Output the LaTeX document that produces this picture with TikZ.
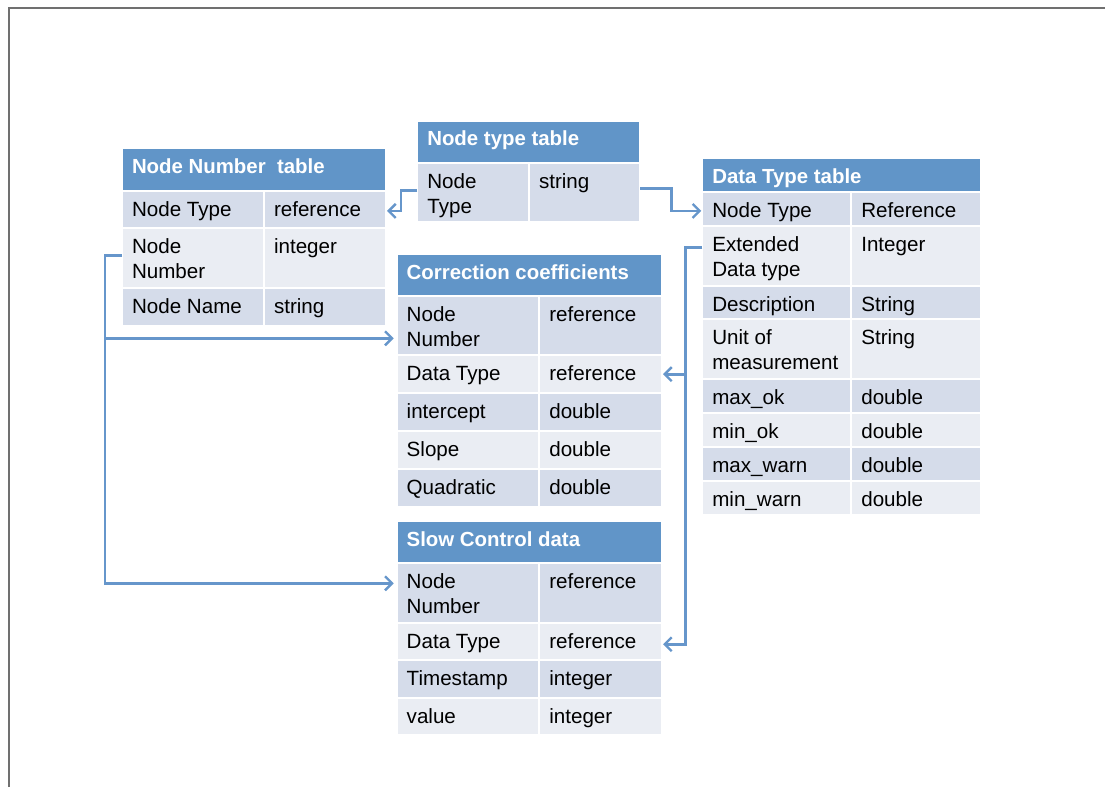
\documentclass[tikz,border=0pt]{standalone}
\usepackage{fontspec}
\setmainfont{Liberation Sans}
\usetikzlibrary{arrows.meta,calc}
\definecolor{hdr}{HTML}{6195C8}
\definecolor{rowA}{HTML}{D5DCEA}
\definecolor{rowB}{HTML}{EAEDF3}
\definecolor{conncol}{HTML}{6696CB}
\definecolor{framecol}{HTML}{707070}
\tikzset{
  cellbox/.style={draw=white,line width=2pt,inner sep=0pt,outer sep=0pt,rectangle},
  celltext/.style={anchor=base west,inner sep=0pt,outer sep=0pt,text=black,font=\fontsize{20.6}{25}\selectfont},
  hdrtext/.style={anchor=base west,inner sep=0pt,outer sep=0pt,text=white,font=\fontsize{20.4}{25}\selectfont\bfseries},
  conn/.style={draw=conncol,line width=2.8pt,-{Straight Barb[length=7pt,width=14pt,line width=2.4pt]}},
  frameline/.style={draw=framecol,line width=2pt}
}
\newcommand\mycell[7]{%
  \node[cellbox,fill=#6,minimum width={(#4-#2)*1pt},minimum height={(#5-#3)*1pt}] (#1) at ({(#2+#4)/2},{-(#3+#5)/2}) {};
  \node[celltext] (#1-t) at ([shift={(10pt,-25.5pt)}]#1.north west) {\begin{tabular}[t]{@{}l@{}}#7\end{tabular}};
}
\newcommand\myhead[6]{%
  \node[cellbox,fill=hdr,minimum width={(#4-#2)*1pt},minimum height={(#5-#3)*1pt}] (#1) at ({(#2+#4)/2},{-(#3+#5)/2}) {};
  \node[hdrtext] (#1-t) at ([shift={(10pt,-25pt)}]#1.north west) {#6};
}
\begin{document}
\begin{tikzpicture}[x=1pt,y=1pt]
\useasboundingbox (0,0) rectangle (1105,-787);
\fill[white] (0,0) rectangle (1105,-787);
\draw[frameline] (8.5,-787) -- (8.5,-8) -- (1105,-8);

% Node Number table
\myhead{nnh}{122}{148.3}{386}{190.5}{Node Number~ table}
\mycell{nn1a}{122}{190.5}{264}{228.3}{rowA}{Node Type}
\mycell{nn1b}{264}{190.5}{386}{228.3}{rowA}{reference}
\mycell{nn2a}{122}{228.3}{264}{287.5}{rowB}{Node\\Number}
\mycell{nn2b}{264}{228.3}{386}{287.5}{rowB}{integer}
\mycell{nn3a}{122}{287.5}{264}{326}{rowA}{Node Name}
\mycell{nn3b}{264}{287.5}{386}{326}{rowA}{string}

% Node type table
\myhead{nth}{417.3}{120.7}{640.3}{162.5}{Node type table}
\mycell{nt1a}{417.3}{162.5}{529}{222}{rowA}{Node\\Type}
\mycell{nt1b}{529}{162.5}{640.3}{222}{rowA}{string}

% Data Type table
\myhead{dth}{702.3}{158}{981}{191.5}{Data Type table}
\mycell{dt1a}{702.3}{191.5}{851.3}{226.3}{rowA}{Node Type}
\mycell{dt1b}{851.3}{191.5}{981}{226.3}{rowA}{Reference}
\mycell{dt2a}{702.3}{226.3}{851.3}{285.8}{rowB}{Extended\\Data type}
\mycell{dt2b}{851.3}{226.3}{981}{285.8}{rowB}{Integer}
\mycell{dt3a}{702.3}{285.8}{851.3}{319.2}{rowA}{Description}
\mycell{dt3b}{851.3}{285.8}{981}{319.2}{rowA}{String}
\mycell{dt4a}{702.3}{319.2}{851.3}{379}{rowB}{Unit of\\measurement}
\mycell{dt4b}{851.3}{319.2}{981}{379}{rowB}{String}
\mycell{dt5a}{702.3}{379}{851.3}{412.5}{rowA}{max\_ok}
\mycell{dt5b}{851.3}{379}{981}{412.5}{rowA}{double}
\mycell{dt6a}{702.3}{412.5}{851.3}{446.8}{rowB}{min\_ok}
\mycell{dt6b}{851.3}{412.5}{981}{446.8}{rowB}{double}
\mycell{dt7a}{702.3}{446.8}{851.3}{480.8}{rowA}{max\_warn}
\mycell{dt7b}{851.3}{446.8}{981}{480.8}{rowA}{double}
\mycell{dt8a}{702.3}{480.8}{851.3}{515}{rowB}{min\_warn}
\mycell{dt8b}{851.3}{480.8}{981}{515}{rowB}{double}

% Correction coefficients
\myhead{cch}{396.7}{254}{662}{296.3}{Correction coefficients}
\mycell{cc1a}{396.7}{296.3}{539.3}{355.2}{rowA}{Node\\Number}
\mycell{cc1b}{539.3}{296.3}{662}{355.2}{rowA}{reference}
\mycell{cc2a}{396.7}{355.2}{539.3}{393.2}{rowB}{Data Type}
\mycell{cc2b}{539.3}{355.2}{662}{393.2}{rowB}{reference}
\mycell{cc3a}{396.7}{393.2}{539.3}{431}{rowA}{intercept}
\mycell{cc3b}{539.3}{393.2}{662}{431}{rowA}{double}
\mycell{cc4a}{396.7}{431}{539.3}{468.7}{rowB}{Slope}
\mycell{cc4b}{539.3}{431}{662}{468.7}{rowB}{double}
\mycell{cc5a}{396.7}{468.7}{539.3}{506.7}{rowA}{Quadratic}
\mycell{cc5b}{539.3}{468.7}{662}{506.7}{rowA}{double}

% Slow Control data
\myhead{sch}{396.7}{521.3}{662}{563.3}{Slow Control data}
\mycell{sc1a}{396.7}{563.3}{539.3}{622.5}{rowA}{Node\\Number}
\mycell{sc1b}{539.3}{563.3}{662}{622.5}{rowA}{reference}
\mycell{sc2a}{396.7}{622.5}{539.3}{660}{rowB}{Data Type}
\mycell{sc2b}{539.3}{622.5}{662}{660}{rowB}{reference}
\mycell{sc3a}{396.7}{660}{539.3}{697.5}{rowA}{Timestamp}
\mycell{sc3b}{539.3}{660}{662}{697.5}{rowA}{integer}
\mycell{sc4a}{396.7}{697.5}{539.3}{735.3}{rowB}{value}
\mycell{sc4b}{539.3}{697.5}{662}{735.3}{rowB}{integer}

% connectors
\draw[conn] ([yshift=2pt]nt1a.west) -- ++(-16.3pt,0pt) |- ([xshift=1pt,yshift=-1.5pt]nn1b.east);
\draw[conn] ([yshift=3.5pt]nt1b.east) -- ++(31pt,0pt) |- ([xshift=-1pt,yshift=-2pt]dt1a.west);
\draw[conn] ([yshift=-27pt]nn2a.north west) -- ++(-17pt,0pt) coordinate (cbend) |- ([xshift=-3pt,yshift=-42pt]cc1a.north west);
\draw[conn] (cbend) |- ([xshift=-3pt,yshift=-20pt]sc1a.north west);
\draw[conn] ([yshift=-21pt]dt2a.north west) -- ++(-17pt,0pt) coordinate (dbend) |- ([xshift=1pt]cc2b.east);
\draw[conn] (dbend) |- ([xshift=1pt,yshift=-3pt]sc2b.east);
\end{tikzpicture}
\end{document}
